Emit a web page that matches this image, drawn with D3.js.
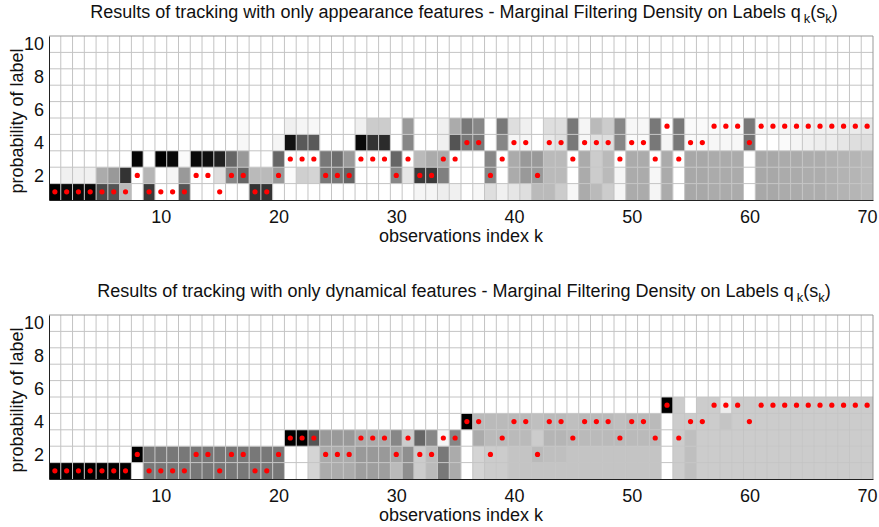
<!DOCTYPE html>
<html>
<head>
<meta charset="utf-8">
<script src="https://cdn.jsdelivr.net/npm/d3@7"></script>
<style>
  html, body { margin: 0; padding: 0; background: #fff; }
  svg { display: block; font-family: "Liberation Sans", Arial, Helvetica, sans-serif; }
</style>
</head>
<body>
<svg id="chart" width="879" height="527"></svg>
<script>
// ---------------- DATA ----------------
const observations = d3.range(1, 71);            // k = 1..70
const labels = [1, 2, 3, 4, 5, 6, 7, 8, 9, 10];  // label values
const xTicks = [10, 20, 30, 40, 50, 60, 70];
const yTicks = [2, 4, 6, 8, 10];

// marked label (red dot) per observation
const trueLabel = [1,1,1,1,1,1,1,2,1,1, 1,1,2,2,1,2,2,1,1,2, 3,3,3,2,2,2,3,3,3,2,
                   3,2,2,3,3,4,4,2,3,4, 4,2,4,4,3,4,4,4,3,4, 4,3,5,3,4,4,5,5,5,4,
                   5,5,5,5,5,5,5,5,5,5];

// probability rows (darkness) - appearance features
const appLabel1 = [1.00,0.97,0.97,0.97,0.71,0.67,0.27,0,0.77,0, 0,0.67,0,0,0,0,0,0.80,0.80,0,
                   0,0,0,0,0,0,0,0,0,0, 0,0.04,0.04,0.07,0.06,0,0.03,0.13,0.06,0.10,
                   0.13,0.27,0.27,0.20,0.03,0.33,0.27,0.20,0.04,0.33, 0.33,0.04,0.33,0,0.34,0.34,0.33,0.33,0.33,0,
                   0.34,0.34,0.33,0.33,0.32,0.32,0.31,0.30,0.29,0.27];
const appLabel2 = [0,0.06,0.06,0.06,0.33,0.40,0.80,0,0.29,0, 0.04,0.40,0,0,0.13,0.47,0.60,0.27,0.27,0.40,
                   0.02,0.19,0.17,0.53,0.53,0.60,0,0,0,0.47, 0.10,0.77,0.77,0.50,0,0,0,0.47,0,0.33,
                   0.40,0.40,0.27,0.27,0,0.33,0.20,0.27,0.04,0.33, 0.33,0.03,0.33,0,0.34,0.34,0.33,0.33,0.33,0,
                   0.34,0.34,0.33,0.33,0.32,0.32,0.31,0.30,0.29,0.27];
const appLabel3 = [0,0,0,0,0,0,0,0.98,0,1.00, 0.96,0.02,0.96,0.94,0.87,0.60,0.40,0,0,0.60,
                   0,0,0,0.53,0.57,0.40,0,0,0,0.60, 0,0.27,0.33,0.33,0,0,0,0.47,0,0.33,
                   0.40,0.40,0.27,0.27,0,0.33,0.20,0.27,0,0.33, 0.33,0,0.33,0,0.34,0.34,0.33,0.33,0.33,0,
                   0.34,0.34,0.33,0.33,0.32,0.32,0.31,0.30,0.29,0.27];
const appLabel4 = [0,0,0,0,0,0,0,0,0,0, 0,0,0,0,0,0,0.03,0,0,0.04,
                   0.93,0.65,0.65,0,0,0,0.96,0.80,0.83,0, 0.47,0,0,0.06,0.67,0.53,0.53,0,0.47,0.04,
                   0.03,0,0.09,0.12,0.53,0.03,0.12,0.13,0.47,0.02, 0.02,0.53,0.04,0.53,0.02,0.02,0.03,0.03,0.03,0.55,
                   0,0,0.02,0.04,0.06,0.07,0.07,0.10,0.13,0.13];
const appLabel5 = [0,0,0,0,0,0,0,0,0,0, 0,0,0,0,0,0,0.02,0,0,0,
                   0.06,0.04,0.03,0,0,0,0.06,0.20,0.20,0, 0.40,0,0,0.06,0.33,0.53,0.47,0,0.53,0.13,
                   0.06,0,0.13,0.13,0.53,0.04,0.27,0.20,0.47,0.03, 0.03,0.53,0,0.53,0.02,0.02,0.02,0.02,0.02,0.53,
                   0.03,0.03,0.04,0.04,0.05,0.06,0.06,0.07,0.08,0.09];

// probability rows (darkness) - dynamical features
const dynLabel1 = [1,1,1,1,1,1,1,0,0.53,0.53, 0.53,0.53,0.53,0.53,0.53,0.53,0.53,0.53,0.53,0.53,
                   0,0,0.17,0.33,0.33,0.33,0.38,0.38,0.38,0.27, 0.44,0.20,0.27,0.53,0.33,0,0.17,0.20,0.20,0.23,
                   0.23,0.23,0.23,0.23,0.23,0.23,0.23,0.23,0.23,0.23, 0.23,0.23,0,0.20,0.25,0.20,0.20,0.20,0.20,0.20,
                   0.20,0.20,0.20,0.20,0.20,0.20,0.20,0.20,0.20,0.20];
const dynLabel2 = [0,0,0,0,0,0,0,1,0.53,0.53, 0.53,0.53,0.53,0.53,0.53,0.53,0.53,0.53,0.53,0.53,
                   0,0,0.17,0.33,0.33,0.33,0.40,0.40,0.40,0.35, 0.44,0.20,0.27,0.53,0.33,0,0.17,0.20,0.20,0.23,
                   0.23,0.27,0.25,0.25,0.23,0.23,0.23,0.23,0.23,0.23, 0.23,0.23,0,0.20,0.25,0.20,0.20,0.20,0.20,0.20,
                   0.20,0.20,0.20,0.20,0.20,0.20,0.20,0.20,0.20,0.20];
const dynLabel3 = [0,0,0,0,0,0,0,0,0,0, 0,0,0,0,0,0,0,0,0,0,
                   1,1,0.67,0.40,0.40,0.40,0.33,0.33,0.33,0.47, 0.20,0.60,0.47,0.04,0.47,0,0.33,0.27,0.27,0.27,
                   0.27,0.20,0.29,0.29,0.27,0.27,0.27,0.27,0.27,0.27, 0.27,0.27,0,0.20,0.25,0.20,0.20,0.20,0.20,0.20,
                   0.20,0.20,0.20,0.20,0.20,0.20,0.20,0.20,0.20,0.20];
const dynLabel4 = [0,0,0,0,0,0,0,0,0,0, 0,0,0,0,0,0,0,0,0,0,
                   0,0,0,0,0,0,0,0,0,0, 0,0,0,0,0,1,0.27,0.27,0.27,0.27,
                   0.27,0.25,0.27,0.27,0.25,0.27,0.27,0.27,0.25,0.27, 0.27,0.27,0,0.20,0.20,0.20,0.20,0.23,0.20,0.20,
                   0.20,0.20,0.20,0.20,0.20,0.20,0.20,0.20,0.20,0.20];
const dynLabel5 = [0,0,0,0,0,0,0,0,0,0, 0,0,0,0,0,0,0,0,0,0,
                   0,0,0,0,0,0,0,0,0,0, 0,0,0,0,0,0,0,0,0,0,
                   0,0,0,0,0,0,0,0,0,0, 0,0,1,0.20,0,0.20,0.20,0.07,0.20,0.20,
                   0.20,0.20,0.20,0.20,0.20,0.20,0.20,0.20,0.20,0.20];
// labels 6..10 carry no probability in either panel
const emptyLabel = [0,0,0,0,0,0,0,0,0,0, 0,0,0,0,0,0,0,0,0,0, 0,0,0,0,0,0,0,0,0,0,
                    0,0,0,0,0,0,0,0,0,0, 0,0,0,0,0,0,0,0,0,0, 0,0,0,0,0,0,0,0,0,0,
                    0,0,0,0,0,0,0,0,0,0];

const appRows = [appLabel1, appLabel2, appLabel3, appLabel4, appLabel5, emptyLabel, emptyLabel, emptyLabel, emptyLabel, emptyLabel];
const dynRows = [dynLabel1, dynLabel2, dynLabel3, dynLabel4, dynLabel5, emptyLabel, emptyLabel, emptyLabel, emptyLabel, emptyLabel];

const panels = [
  { title: "Results of tracking with only appearance features - Marginal Filtering Density on Labels q", rows: appRows, top: 36, titleY: 18 },
  { title: "Results of tracking with only dynamical features - Marginal Filtering Density on Labels q", rows: dynRows, top: 315, titleY: 297 }
];

// ---------------- DRAW ----------------
const svg = d3.select("#chart");
const left = 49, right = 873, plotH = 164;
const FS = 18;
const gray = d3.scaleLinear().domain([0, 1]).range(["#ffffff", "#000000"]);

panels.forEach(p => {
  const x = d3.scaleLinear().domain([0.5, 70.5]).range([left, right]);
  const y = d3.scaleLinear().domain([0.5, 10.5]).range([p.top + plotH, p.top]);
  const g = svg.append("g");

  const cells = [];
  labels.forEach((lab, i) => {
    observations.forEach((k, j) => cells.push({ k, lab, v: p.rows[i][j] }));
  });

  g.append("g").selectAll("rect").data(cells).join("rect")
    .attr("x", d => x(d.k - 0.5))
    .attr("y", d => y(d.lab + 0.5))
    .attr("width", d => x(d.k + 0.5) - x(d.k - 0.5))
    .attr("height", d => y(d.lab - 0.5) - y(d.lab + 0.5))
    .attr("fill", d => gray(d.v));

  // grid lines
  const grid = g.append("g").attr("stroke", "#c4c4c4").attr("stroke-width", 1);
  d3.range(1.5, 70.5, 1).forEach(v => {
    grid.append("line").attr("x1", x(v)).attr("x2", x(v)).attr("y1", y(0.5)).attr("y2", y(10.5));
  });
  d3.range(1.5, 10.5, 1).forEach(v => {
    grid.append("line").attr("x1", x(0.5)).attr("x2", x(70.5)).attr("y1", y(v)).attr("y2", y(v));
  });

  // red dots
  g.append("g").selectAll("circle").data(observations).join("circle")
    .attr("cx", k => x(k))
    .attr("cy", (k, j) => y(trueLabel[j]))
    .attr("r", 2.6)
    .attr("fill", "#ff0000");

  // box
  g.append("line").attr("x1", x(0.5)).attr("x2", x(70.5)).attr("y1", y(10.5)).attr("y2", y(10.5)).attr("stroke", "#999");
  g.append("line").attr("x1", x(70.5)).attr("x2", x(70.5)).attr("y1", y(0.5)).attr("y2", y(10.5)).attr("stroke", "#999");

  // axes
  const xAxis = g.append("g").attr("transform", `translate(0,${y(0.5)})`)
    .call(d3.axisBottom(x).tickValues(xTicks).tickSize(0).tickPadding(10).tickFormat(d3.format("d")));
  xAxis.select(".domain").attr("stroke", "#222");
  xAxis.selectAll("text").attr("font-size", FS).attr("fill", "#111").attr("font-family", "Liberation Sans, Arial, sans-serif");

  const yAxis = g.append("g").attr("transform", `translate(${x(0.5)},0)`)
    .call(d3.axisLeft(y).tickValues(yTicks).tickSize(0).tickPadding(5).tickFormat(d3.format("d")));
  yAxis.select(".domain").attr("stroke", "#222");
  yAxis.selectAll("text").attr("font-size", FS).attr("fill", "#111").attr("font-family", "Liberation Sans, Arial, sans-serif");

  // axis titles
  g.append("text")
    .attr("x", (left + right) / 2).attr("y", p.top + plotH + 42)
    .attr("text-anchor", "middle").attr("font-size", FS).attr("fill", "#111")
    .text("observations index k");
  g.append("text")
    .attr("transform", `translate(23,${p.top + plotH / 2 + 3}) rotate(-90)`)
    .attr("text-anchor", "middle").attr("font-size", FS).attr("fill", "#111")
    .text("probability of label");

  // title with subscripts
  const t = g.append("text")
    .attr("x", (left + right) / 2 + 3).attr("y", p.titleY)
    .attr("text-anchor", "middle").attr("font-size", FS).attr("fill", "#111");
  t.append("tspan").text(p.title);
  t.append("tspan").attr("dx", 3).attr("dy", 5).attr("font-size", 13).text("k");
  t.append("tspan").attr("dy", -5).text("(s");
  t.append("tspan").attr("dy", 5).attr("font-size", 13).text("k");
  t.append("tspan").attr("dy", -5).text(")");
});
</script>
</body>
</html>
